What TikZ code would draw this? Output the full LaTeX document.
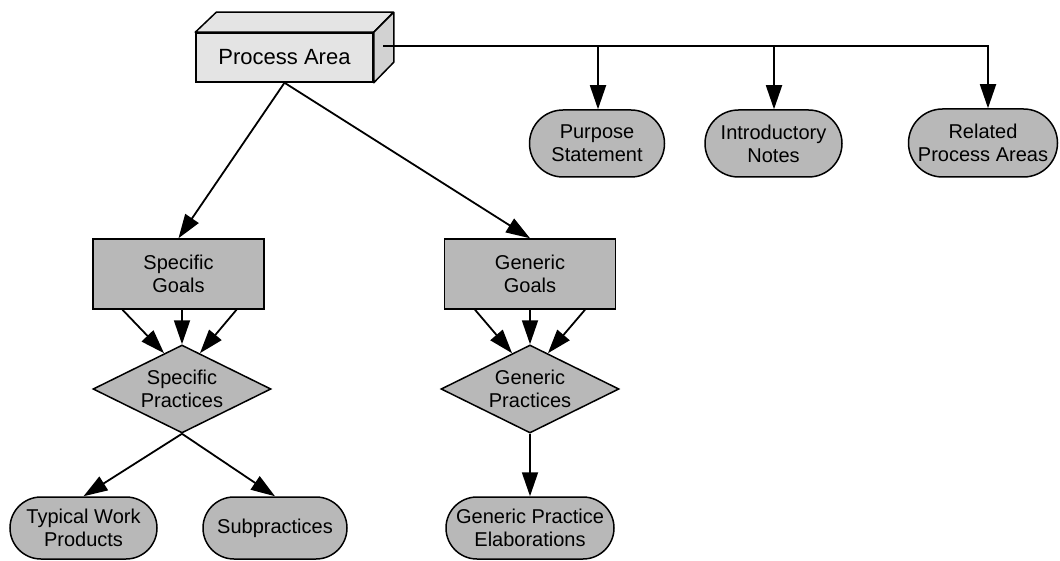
\documentclass[tikz,border=0pt]{standalone}
\usepackage{fontspec}
\setmainfont{Liberation Sans}
\usetikzlibrary{shapes.geometric,arrows.meta,calc}
\definecolor{boxgray}{RGB}{184,184,184}
\definecolor{lightbox}{RGB}{228,228,228}
\begin{document}
\begin{tikzpicture}[x=1pt,y=-1pt,
  lbl/.style={font=\fontsize{20}{23}\selectfont, align=center, text=black},
  goal/.style={lbl, draw, line width=1.5pt, fill=boxgray, minimum width=171pt, minimum height=70pt, inner sep=0pt},
  prac/.style={lbl, diamond, aspect=2, draw, line width=1.5pt, fill=boxgray, minimum width=178pt, minimum height=88pt, inner sep=0pt},
  oval/.style={lbl, draw, line width=1.5pt, fill=boxgray, inner sep=0pt},
  edge/.style={line width=1.8pt},
  arr/.style={line width=1.8pt, -{Triangle[length=24pt,width=16pt]}},
]
\useasboundingbox (0,0) rectangle (1060,561);
\fill[white] (0,0) rectangle (1060,561);

% Process Area 3D box
\node[draw, line width=1.5pt, fill=lightbox, minimum width=177pt, minimum height=49pt, inner sep=0pt,
      font=\fontsize{22}{26}\selectfont] (pa) at (284.5,57.5) {Process Area};
\draw[line width=1.5pt, fill=lightbox, line join=round] (pa.north west) -- ++(21,-20) -- ++(177,0) -- (pa.north east) -- cycle;
\draw[line width=1.5pt, fill=lightbox!92!black, line join=round] (pa.north east) -- ++(20,-20) -- ++(0,50) -- (pa.south east) -- cycle;

% top row ovals
\node[oval, minimum width=135pt, minimum height=67pt, rounded corners=33.5pt] (ps) at (597,143.5) {Purpose\\Statement};
\node[oval, minimum width=137pt, minimum height=67pt, rounded corners=33.5pt] (in) at (773.5,143.5) {Introductory\\Notes};
\node[oval, minimum width=149pt, minimum height=68pt, rounded corners=34pt] (rp) at (983,143) {Related\\Process Areas};

\coordinate (bus) at (383,46);
\coordinate (j1) at (598,46);
\coordinate (j2) at (774,46);
\coordinate (j3) at (988,46);
\draw[edge, line join=miter] (bus) -- (j3) -- ++(0,1);
\draw[arr] (j1) -- (j1 |- ps.north);
\draw[arr] (j2) -- (j2 |- in.north);
\draw[arr] (j3) -- (j3 |- rp.north);

% goals
\node[goal] (sg) at (178.5,274) {Specific\\Goals};
\node[goal] (gg) at (530,274) {Generic\\Goals};
\draw[arr] (pa.south) -- (sg.north);
\draw[arr] (pa.south) -- (gg.north);

% practices
\node[prac] (sp) at (182,389) {Specific\\Practices};
\node[prac] (gp) at (530,389) {Generic\\Practices};

\draw[arr] ($(sg.south)+(-56,0)$) -- ($(sp.north)!0.2!(sp.west)$);
\draw[arr] (sg.south -| sp.north) -- (sp.north);
\draw[arr] ($(sg.south)+(58,0)$) -- ($(sp.north)!0.2!(sp.east)$);

\draw[arr] ($(gg.south)+(-55,0)$) -- ($(gp.north)!0.2!(gp.west)$);
\draw[arr] (gg.south) -- (gp.north);
\draw[arr] ($(gg.south)+(55,0)$) -- ($(gp.north)!0.2!(gp.east)$);

% bottom ovals
\node[oval, minimum width=147pt, minimum height=62pt, rounded corners=31pt] (tw) at (83.5,528) {Typical Work\\Products};
\node[oval, minimum width=144pt, minimum height=62pt, rounded corners=31pt] (sub) at (275,528) {Subpractices};
\node[oval, minimum width=168pt, minimum height=62pt, rounded corners=31pt] (gpe) at (530,528) {Generic Practice\\Elaborations};

\draw[arr] (sp.south) -- (tw.north);
\draw[arr] (sp.south) -- (sub.north);
\draw[arr] (gp.south) -- (gpe.north);
\end{tikzpicture}
\end{document}
